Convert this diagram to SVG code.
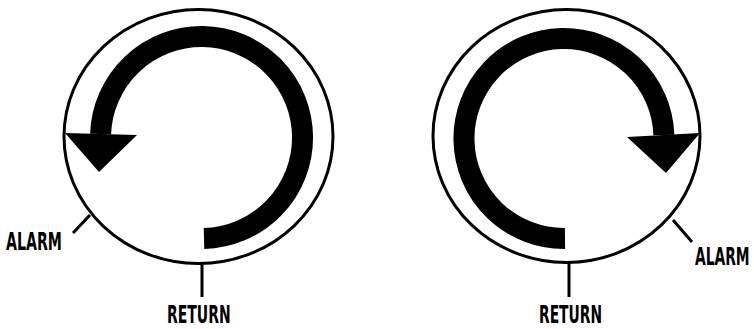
<svg xmlns="http://www.w3.org/2000/svg" width="754" height="329" viewBox="0 0 754 329">
<style>
.dial{fill:none;stroke:#000;stroke-width:3}
.tick{stroke:#000;stroke-width:3;fill:none}
.band{fill:none;stroke:#000;stroke-width:21;stroke-linecap:butt}
.head{fill:#000}
.lbl{font-family:"DejaVu Sans Condensed","Liberation Sans Narrow","Liberation Sans",sans-serif;font-stretch:condensed;font-weight:bold;font-size:24px;fill:#000}
</style>
<rect width="754" height="329" fill="#fff"/>
<g id="dial-left">
<ellipse class="dial" cx="198.5" cy="136.5" rx="134.5" ry="127"/>
<path class="band" d="M 204 238.5 A 101 101 0 1 0 100.6 134"/>
<polygon class="head" points="65,133 137,135 99,172"/>
</g>
<g id="dial-right">
<ellipse class="dial" cx="566.5" cy="136" rx="133.5" ry="126.5"/>
<path class="band" d="M 565 238.5 A 100 100 0 1 1 663.9 135"/>
<polygon class="head" points="627,137 700,133 666,173"/>
</g>
<g id="connectors">
<line class="tick" x1="90" y1="215" x2="73" y2="233"/>
<line class="tick" x1="202" y1="262" x2="202" y2="297"/>
<line class="tick" x1="673" y1="220" x2="692" y2="242"/>
<line class="tick" x1="569" y1="261" x2="569" y2="297"/>
</g>
<g id="label-alarm-left"><text class="lbl" transform="translate(6,250) scale(0.65,1)" textLength="86" lengthAdjust="spacingAndGlyphs">ALARM</text></g>
<g id="label-return-left"><text class="lbl" transform="translate(167,323) scale(0.65,1)" textLength="98" lengthAdjust="spacingAndGlyphs">RETURN</text></g>
<g id="label-alarm-right"><text class="lbl" transform="translate(695,265) scale(0.65,1)" textLength="84" lengthAdjust="spacingAndGlyphs">ALARM</text></g>
<g id="label-return-right"><text class="lbl" transform="translate(539,323) scale(0.65,1)" textLength="97" lengthAdjust="spacingAndGlyphs">RETURN</text></g>
</svg>
